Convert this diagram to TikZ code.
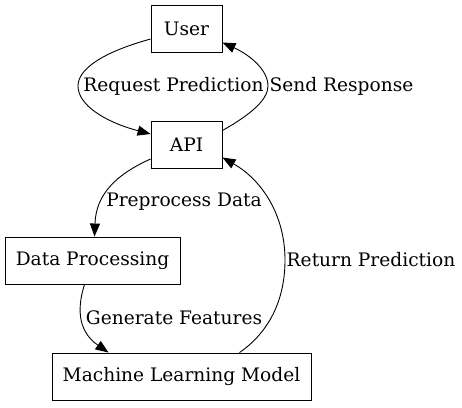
\documentclass[tikz,border=0pt]{standalone}
\usepackage{fontspec}
\setmainfont{DejaVu Serif}
\usetikzlibrary{arrows.meta}
\tikzset{
  box/.style={draw, line width=0.9pt, minimum height=47pt, inner sep=0pt, font=\fontsize{18.6}{22}\selectfont},
  lbl/.style={inner sep=0pt, font=\fontsize{18.6}{22}\selectfont},
  edge/.style={line width=0.9pt, -{Triangle[length=13pt,width=10pt]}}
}
\begin{document}
\begin{tikzpicture}[x=1pt,y=-1pt]
\useasboundingbox (0,0) rectangle (462,407);
\node[box, minimum width=71pt] (User) at (186.5,28.5) {User};
\node[box, minimum width=71pt] (API) at (186.5,144.5) {API};
\node[box, minimum width=175pt] (DP) at (92.5,260.5) {Data Processing};
\node[box, minimum width=259pt] (ML) at (181.5,376.5) {Machine Learning Model};
\node[lbl] (l1) at (173.5,86) {Request Prediction};
\node[lbl] (l2) at (341.5,86) {Send Response};
\node[lbl] (l3) at (184,202) {Preprocess Data};
\node[lbl] (l4) at (174,318) {Generate Features};
\node[lbl] (l5) at (371,260) {Return Prediction};
\draw[edge] ([yshift=-10.5pt]User.west) .. controls (100,53) and (78,70) .. (78,86)
  .. controls (78,105) and (105,122) .. ([yshift=10.5pt]API.west);
\draw[edge] ([yshift=14pt]API.east) .. controls (250,115) and (268,100) .. (268,86)
  .. controls (268,70) and (250,55) .. ([yshift=-14pt]User.east);
\draw[edge] ([yshift=-14.5pt]API.west) .. controls (115,175) and (96,195) .. ([xshift=2pt]DP.north);
\draw[edge] ([xshift=-8pt]DP.south) .. controls (78,305) and (76,330) .. ([xshift=-73pt]ML.north);
\draw[edge] ([xshift=58pt]ML.north) .. controls (265,335) and (285,305) .. (285,260)
  .. controls (285,215) and (262,180) .. ([yshift=-13pt]API.east);
\end{tikzpicture}
\end{document}
